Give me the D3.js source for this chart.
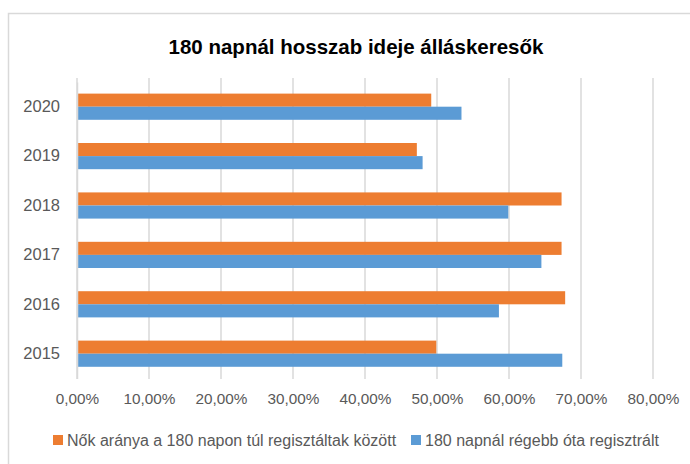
<!DOCTYPE html>
<html>
<head>
<meta charset="utf-8">
<script src="https://cdn.jsdelivr.net/npm/d3@7"></script>
<style>
  body { margin: 0; background: #fff; }
  text { font-family: "Liberation Sans", Arial, sans-serif; }
</style>
</head>
<body>
<svg id="main-chart-svg" width="690" height="464"></svg>
<script>
// data
let years = ["2020", "2019", "2018", "2017", "2016", "2015"];
let nokAranya = [49.2, 47.2, 67.3, 67.3, 67.8, 49.9];      // orange
let regebbOta = [53.4, 48.0, 59.9, 64.5, 58.6, 67.4];      // blue
let xTicks = [0, 10, 20, 30, 40, 50, 60, 70, 80];
let seriesNames = ["Nők aránya a 180 napon túl regisztáltak között", "180 napnál régebb óta regisztrált"];
let colors = ["#ED7D31", "#5B9BD5"];

let svg = d3.select("#main-chart-svg");

// chart frame
svg.append("rect")
  .attr("x", 8.5).attr("y", 13.5)
  .attr("width", 700).attr("height", 470)
  .attr("fill", "#fff")
  .attr("stroke", "#d9d9d9")
  .attr("stroke-width", 1.5);

svg.append("text")
  .attr("x", 356).attr("y", 54)
  .attr("text-anchor", "middle")
  .attr("font-size", "20.5px")
  .attr("font-weight", "bold")
  .attr("fill", "#000")
  .text("180 napnál hosszab ideje álláskeresők");

let xScale = d3.scaleLinear().domain([0, 80]).range([77, 653]);
let yScale = d3.scaleBand().domain(years).range([82, 378.4]).paddingInner(0.47).paddingOuter(0.235);
let subScale = d3.scaleBand().domain([0, 1]).range([0, yScale.bandwidth()]);

// gridlines
svg.append("g").selectAll("line")
  .data(xTicks)
  .join("line")
  .attr("x1", d => xScale(d)).attr("x2", d => xScale(d))
  .attr("y1", 78).attr("y2", 379)
  .attr("stroke", "#d9d9d9")
  .attr("stroke-width", 1.5);

// bars
let rows = years.map((y, i) => ({ year: y, vals: [nokAranya[i], regebbOta[i]] }));
svg.append("g").selectAll("g")
  .data(rows)
  .join("g")
  .attr("transform", d => `translate(0,${yScale(d.year)})`)
  .selectAll("rect")
  .data(d => d.vals.map((v, k) => ({ v, k })))
  .join("rect")
  .attr("x", xScale(0))
  .attr("y", d => subScale(d.k))
  .attr("width", d => xScale(d.v) - xScale(0))
  .attr("height", subScale.bandwidth())
  .attr("fill", d => colors[d.k]);

// y axis
let yAxis = d3.axisLeft(yScale).tickSize(0).tickPadding(17);
let yG = svg.append("g").attr("transform", `translate(${xScale(0)},0)`).call(yAxis);
yG.select(".domain").attr("stroke", "#d9d9d9").attr("stroke-width", 1.5);
yG.selectAll("text").attr("font-size", "16.5px").attr("fill", "#595959")
  .attr("font-family", "Liberation Sans, Arial, sans-serif");

// x axis labels
let xAxis = d3.axisBottom(xScale).tickValues(xTicks).tickSize(0).tickPadding(0)
  .tickFormat(d => d3.format(".2f")(d).replace(".", ",") + "%");
let xG = svg.append("g").attr("transform", "translate(0,393)").call(xAxis);
xG.select(".domain").remove();
xG.selectAll("text").attr("font-size", "15.3px").attr("fill", "#595959")
  .attr("font-family", "Liberation Sans, Arial, sans-serif");

// legend
let legendX = [53, 411];
let lg = svg.append("g").selectAll("g")
  .data(seriesNames)
  .join("g")
  .attr("transform", (d, i) => `translate(${legendX[i]},435)`);
lg.append("rect").attr("width", 10).attr("height", 10).attr("fill", (d, i) => colors[i]);
lg.append("text").attr("x", 14).attr("y", 10.5)
  .attr("font-size", "16px").attr("fill", "#595959")
  .text(d => d);
</script>
</body>
</html>
